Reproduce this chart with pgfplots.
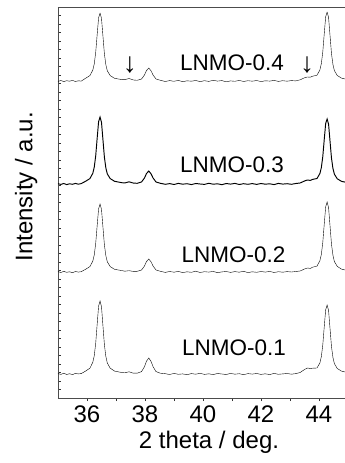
\documentclass[border=0pt]{standalone}
\usepackage{fontspec}
\setmainfont{Liberation Sans}
\usepackage{pgfplots}
\pgfplotsset{compat=1.18}
\begin{document}
\begin{tikzpicture}
\path[use as bounding box] (0,0) rectangle (345pt,463pt);
\begin{axis}[
  at={(58pt,65pt)}, anchor=south west,
  scale only axis, width=290pt, height=391pt,
  xmin=35, xmax=45, ymin=0, ymax=391,
  xtick={36,38,40,42,44}, minor x tick num=1,
  x tick style={black!80, line width=0.7pt},
  xtick pos=bottom, xtick align=outside,
  major tick length=3pt, minor tick length=3pt,
  ytick distance=8.5, yticklabels={}, ytick pos=left, ytick align=inside,
  y tick style={black!80, line width=0.6pt},
  /pgf/number format/assume math mode=true,
  ticklabel style={font=\fontsize{24}{28}\selectfont},
  xticklabel style={yshift=-1pt},
  axis line style={black!70, line width=0.9pt},
  xlabel={2 theta / deg.},
  ylabel={Intensity / a.u.},
  every axis x label/.style={at={(axis description cs:0.5,0)}, anchor=base, yshift=-50pt, xshift=6pt, font=\fontsize{24}{28}\selectfont},
  every axis y label/.style={at={(axis description cs:-0.11,0.54)}, rotate=90, anchor=center, font=\fontsize{24}{28}\selectfont},
  cycle list={{black, no markers, line width=0.95pt, line join=round}},
  clip=true,
]
% LNMO-0.1
\addplot coordinates {
(35.0,24.5)(35.1,23.6)(35.2,24.8)(35.3,23.5)(35.4,24.3)(35.5,23.4)(35.6,24.6)(35.7,24.1)(35.8,24.4)
(35.95,26.9)(36.1,29.8)(36.2,35.7)(36.25,42.3)(36.3,54.7)(36.35,73.6)(36.4,91.9)(36.45,97)(36.5,91.2)
(36.55,72.2)(36.6,53.2)(36.65,41.5)(36.7,35)(36.8,29.8)(36.95,26.9)(37.2,25.5)(37.3,25.2)(37.45,26.2)
(37.6,24.8)(37.73,24.8)(37.88,26.4)(37.98,31.2)(38.05,36.8)(38.13,40)(38.21,36.5)(38.28,31.2)(38.38,26.4)(38.53,24.8)
(38.7,24.3)(38.85,23.5)(39.0,24.6)(39.15,23.7)(39.3,24.1)(39.45,23.3)(39.6,24.4)(39.75,23.8)(39.9,24.7)
(40.05,23.6)(40.2,24.2)(40.35,23.4)(40.5,24.5)(40.65,24.0)(40.8,23.5)(40.95,24.6)(41.1,23.8)(41.25,24.3)
(41.4,23.3)(41.55,24.4)(41.7,23.9)(41.85,24.5)(42.0,23.6)(42.15,24.2)(42.3,23.4)(42.45,24.6)(42.6,23.7)
(42.75,24.1)(42.9,24.5)(43.05,23.8)(43.2,24.4)
(43.35,25.5)(43.5,28.5)(43.6,30)(43.7,29.5)(43.78,29.8)(43.93,30)(44.03,35)(44.08,41.3)(44.13,53)
(44.18,70.9)(44.23,88.2)(44.28,93)(44.33,87.5)(44.38,69.5)(44.43,51.6)(44.48,40.6)(44.53,34.4)
(44.63,29.5)(44.78,26.8)(45.0,25.4)
};
% LNMO-0.2
\addplot coordinates {
(35.0,126.4)(35.1,125.5)(35.2,126.7)(35.3,125.7)(35.4,126.2)(35.5,125.3)(35.6,126.5)(35.7,125.9)(35.8,126.3)
(35.95,128.7)(36.1,131.4)(36.2,136.9)(36.25,143)(36.3,154.6)(36.35,172.2)(36.4,189.2)(36.45,194)(36.5,188.6)
(36.55,170.9)(36.6,153.2)(36.65,142.3)(36.7,136.2)(36.8,131.4)(36.95,128.7)(37.2,127.4)(37.3,126.8)(37.45,127.3)
(37.6,126.6)(37.73,126.7)(37.88,128)(37.98,131.9)(38.05,136.4)(38.13,139)(38.21,136.1)(38.28,131.9)(38.38,128)(38.53,126.7)
(38.7,125.6)(38.85,126.5)(39.0,125.8)(39.15,126.6)(39.3,125.4)(39.45,126.2)(39.6,125.7)(39.75,126.8)(39.9,125.5)
(40.05,126.3)(40.2,125.9)(40.35,126.6)(40.5,125.3)(40.65,126.1)(40.8,126.5)(40.95,125.6)(41.1,126.4)(41.25,125.8)
(41.4,126.7)(41.55,125.4)(41.7,126.2)(41.85,125.7)(42.0,126.5)(42.15,125.9)(42.3,126.6)(42.45,125.5)(42.6,126.3)
(42.75,125.8)(42.9,126.4)(43.05,126.0)(43.2,126.5)
(43.35,127)(43.5,129)(43.6,130)(43.7,129.6)(43.78,130.8)(43.93,131.9)(44.03,137.2)(44.08,143.5)(44.13,155.4)
(44.18,173.6)(44.23,191.1)(44.28,196)(44.33,190.4)(44.38,172.2)(44.43,154)(44.48,142.8)(44.53,136.5)
(44.63,131.6)(44.78,128.8)(45.0,127.4)
};
% LNMO-0.3
\addplot coordinates {
(35.0,214.3)(35.1,213.6)(35.2,214.5)(35.3,213.4)(35.4,214.2)(35.5,213.7)(35.6,214.6)(35.7,213.8)(35.8,214.4)
(35.95,216.7)(36.1,219.4)(36.2,224.7)(36.25,230.8)(36.3,242.1)(36.35,259.6)(36.4,276.3)(36.45,281)(36.5,275.6)
(36.55,258.2)(36.6,240.8)(36.65,230.1)(36.7,224.1)(36.8,219.4)(36.95,216.7)(37.2,215.3)(37.3,215)(37.45,216.2)
(37.6,214.9)(37.73,214.7)(37.88,216)(37.98,219.9)(38.05,224.4)(38.13,227)(38.21,224.1)(38.28,219.9)(38.38,216)(38.53,214.7)
(38.7,213.7)(38.85,214.4)(39.0,213.5)(39.15,214.6)(39.3,213.8)(39.45,214.3)(39.6,213.4)(39.75,214.5)(39.9,214.0)
(40.05,213.6)(40.2,214.7)(40.35,213.8)(40.5,214.2)(40.65,213.3)(40.8,214.5)(40.95,213.9)(41.1,214.6)(41.25,213.5)
(41.4,214.3)(41.55,213.7)(41.7,214.4)(41.85,213.6)(42.0,214.5)(42.15,213.8)(42.3,214.2)(42.45,213.4)(42.6,214.6)
(42.75,213.9)(42.9,214.3)(43.05,213.7)(43.2,214.5)
(43.35,215)(43.5,217)(43.6,218)(43.7,217.6)(43.78,218.6)(43.93,219.5)(44.03,224.4)(44.08,230.3)(44.13,241.3)
(44.18,258.2)(44.23,274.5)(44.28,279)(44.33,273.8)(44.38,256.9)(44.43,240)(44.48,229.6)(44.53,223.8)
(44.63,219.2)(44.78,216.6)(45.0,215.3)
};
% LNMO-0.4
\addplot coordinates {
(35.0,316.6)(35.1,317.5)(35.2,316.4)(35.3,317.3)(35.4,316.8)(35.5,317.6)(35.6,316.5)(35.7,317.2)(35.8,316.9)
(35.95,319.7)(36.1,322.4)(36.2,327.9)(36.25,334)(36.3,345.6)(36.35,363.2)(36.4,380.2)(36.45,385)(36.5,379.6)
(36.55,361.9)(36.6,344.2)(36.65,333.3)(36.7,327.2)(36.8,322.4)(36.95,319.7)(37.2,318.4)(37.3,318.3)(37.45,319.5)
(37.6,318)(37.73,317.7)(37.88,319)(37.98,322.9)(38.05,327.4)(38.13,330)(38.21,327.1)(38.28,322.9)(38.38,319)(38.53,317.7)
(38.7,316.5)(38.85,317.4)(39.0,316.7)(39.15,317.6)(39.3,316.3)(39.45,317.2)(39.6,316.8)(39.75,317.5)(39.9,316.4)
(40.05,317.3)(40.2,316.6)(40.35,317.7)(40.5,316.9)(40.65,317.4)(40.8,316.2)(40.95,317.1)(41.1,316.7)(41.25,317.6)
(41.4,316.5)(41.55,317.3)(41.7,316.8)(41.85,317.5)(42.0,316.4)(42.15,317.2)(42.3,316.9)(42.45,317.6)(42.6,316.6)
(42.75,317.3)(42.9,316.8)(43.05,317.4)(43.2,317.1)
(43.35,318.2)(43.5,320.2)(43.6,321)(43.7,320.8)(43.78,321.8)(43.93,322.8)(44.03,328)(44.08,334.3)(44.13,346)
(44.18,363.9)(44.23,381.2)(44.28,386)(44.33,380.5)(44.38,362.5)(44.43,344.6)(44.48,333.6)(44.53,327.4)
(44.63,322.5)(44.78,319.8)(45.0,318.4)
};
\node[font=\fontsize{22.5}{26}\selectfont] at (axis cs:41.0,335) {LNMO-0.4};
\node[font=\fontsize{22.5}{26}\selectfont] at (axis cs:41.0,233) {LNMO-0.3};
\node[font=\fontsize{22.5}{26}\selectfont] at (axis cs:41.05,143) {LNMO-0.2};
\node[font=\fontsize{22.5}{26}\selectfont] at (axis cs:41.07,50) {LNMO-0.1};
\node[font=\fontsize{28}{30}\selectfont, inner sep=0pt] at (axis cs:37.48,332.5) {↓};
\node[font=\fontsize{28}{30}\selectfont, inner sep=0pt] at (axis cs:43.59,333) {↓};
\end{axis}
\end{tikzpicture}
\end{document}
